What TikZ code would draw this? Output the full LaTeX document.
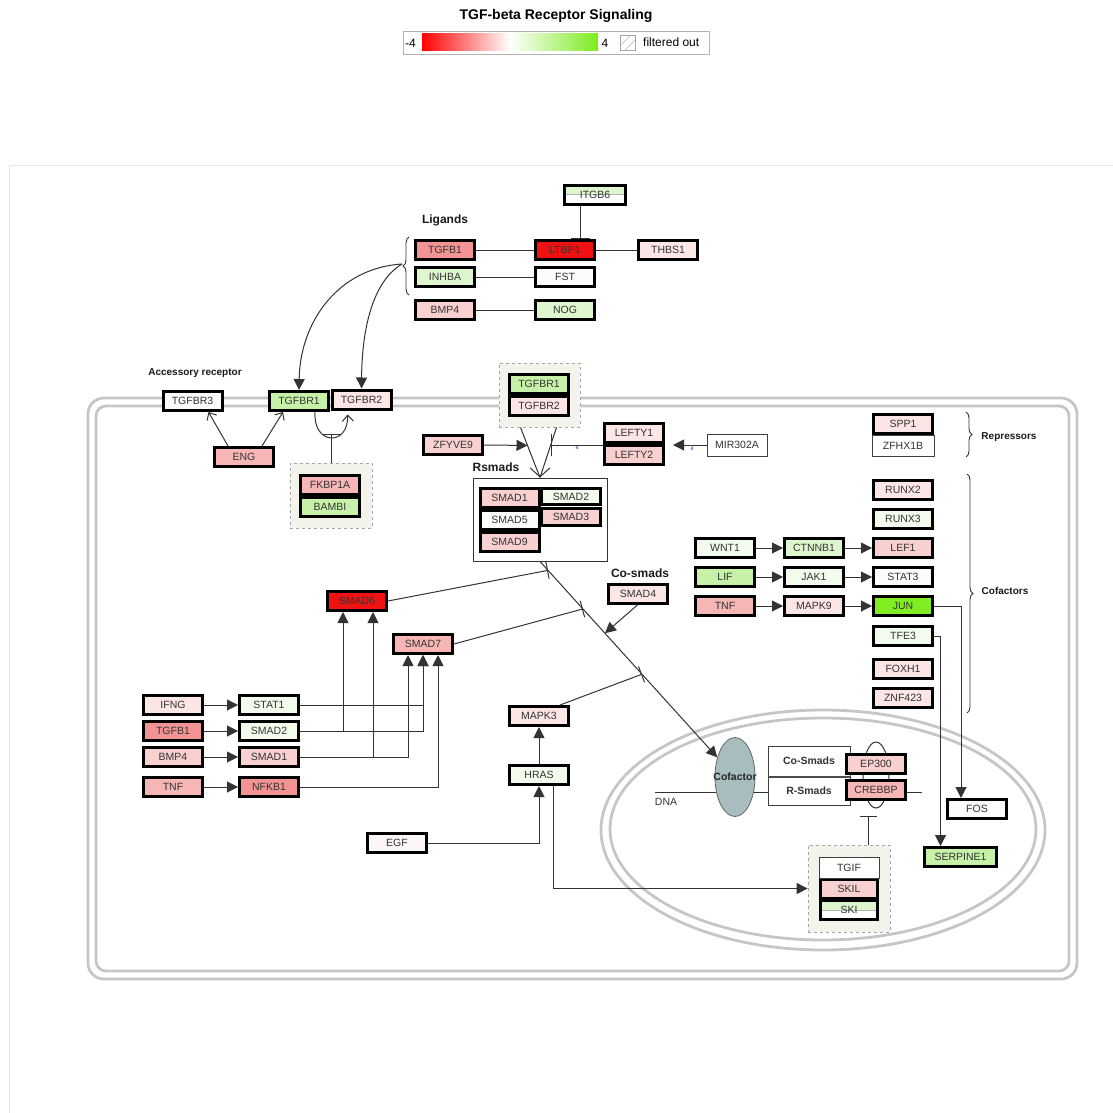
\documentclass[tikz,border=0pt]{standalone}
\usepackage{fontspec}
\setmainfont{Liberation Sans}
\usetikzlibrary{arrows.meta,shapes.geometric,calc,decorations.pathreplacing}
% expression colours, red = down (-4) ... green = up (+4)
\definecolor{upA}{HTML}{F01212}
\definecolor{upB}{HTML}{F29494}
\definecolor{upC}{HTML}{F7B6B6}
\definecolor{upD}{HTML}{F9D0D0}
\definecolor{upE}{HTML}{FCE5E5}
\definecolor{upF}{HTML}{FDF6F6}
\definecolor{dnA}{HTML}{80EE22}
\definecolor{dnB}{HTML}{C7F1A8}
\definecolor{dnC}{HTML}{DDF6CE}
\definecolor{dnD}{HTML}{F2FBEC}
\definecolor{nochg}{HTML}{FCFCFC}
\definecolor{grpfill}{HTML}{F3F3EC}
\definecolor{coffill}{HTML}{A7BDBE}
\definecolor{hiGreen}{HTML}{7CEB1E}
\newcommand{\genefont}{\fontsize{10.5}{12}\selectfont}
\newcommand{\legfont}{\fontsize{12}{14}\selectfont}
\tikzstyle{gene}=[rectangle,draw=black,line width=3pt,minimum width=59pt,minimum height=19pt,inner sep=0pt,font=\genefont,text=black!80]
\tikzstyle{thingene}=[rectangle,draw=black!75,line width=1pt,fill=white,minimum width=60pt,minimum height=21pt,inner sep=0pt,font=\genefont,text=black!80]
\tikzstyle{group}=[rectangle,draw=gray!70,dashed,line width=0.8pt,fill=grpfill,inner sep=0pt]
\tikzstyle{edge}=[draw=black!80,line width=1pt]
\tikzstyle{fwd}=[edge,-{Triangle[length=11pt,width=11pt]}]
\tikzstyle{inhib}=[edge,-{Bar[width=17pt]}]
\tikzstyle{bind}=[edge,-{Straight Barb[length=6pt,width=11pt]}]
\tikzstyle{barb}=[edge,-{Straight Barb[length=9pt,width=20pt]}]
\tikzstyle{heading}=[font=\bfseries\fontsize{12}{14}\selectfont,text=black!90]
\tikzstyle{subheading}=[font=\bfseries\fontsize{10}{12}\selectfont,text=black!90]
\tikzstyle{memb}=[draw=gray!45,line width=2.8pt]
\tikzstyle{brc}=[draw=black!80,line width=0.9pt,decorate,decoration={brace,amplitude=6pt}]
\tikzstyle{qlabel}=[font=\fontsize{5}{5}\selectfont,text=blue!70!black,inner sep=0pt]
\tikzstyle{halfgreen}=[path picture={\fill[dnC] (path picture bounding box.north west) rectangle (path picture bounding box.east);
    \draw[gray!60,line width=0.6pt] (path picture bounding box.west) -- (path picture bounding box.east);}]

\begin{document}
\begin{tikzpicture}[x=1pt,y=-1pt]
    \useasboundingbox (0,0) rectangle (1113,1113);
    % Legend
    \node[font=\bfseries\fontsize{14}{16}\selectfont] (title) at (556,16) {TGF-beta Receptor Signaling};
    \node[draw=gray!60,line width=0.8pt,minimum width=306pt,minimum height=23pt,inner sep=0pt] (legend) at (556,42.5) {};
    \node[font=\legfont,anchor=west,inner sep=0pt] (lmin) at (405,43) {-4};
    \shade[left color=red,right color=hiGreen,middle color=white] (422,34) rectangle (598,51);
    \node[font=\legfont,inner sep=0pt] (lmax) at (605,43) {4};
    \node[draw=gray!70,line width=0.8pt,minimum size=15pt,inner sep=0pt] (lfilt) at (628,42.5) {};
    \draw[gray!55,line width=0.6pt] (621,45) -- (631,35) (625,50) -- (635,40);
    \node[font=\legfont,anchor=west,inner sep=0pt] (lflt) at (643,42) {filtered out};

    % Panel, cell membrane and nucleus
    \draw[gray!20,line width=1pt] (9,1113) -- (9,165) -- (1113,165);
    \draw[memb,rounded corners=16pt] (88,398) rectangle (1077,979);
    \draw[memb,rounded corners=10pt] (96,406) rectangle (1069,971);
    \draw[memb] (823,830) ellipse [x radius=222, y radius=120];
    \draw[memb] (823,829) ellipse [x radius=213, y radius=111];
    \draw[edge] (655,792) -- (922,792);
    \draw[edge] (876,775) ellipse [x radius=13, y radius=33];
    \node[font=\genefont,text=black!80,inner sep=0pt] (dna) at (666,802) {DNA};

    % Groups
    \node[group,minimum width=82pt,minimum height=65pt] (grpA) at (331,495.5) {};
    \node[group,minimum width=81pt,minimum height=64pt] (grpB) at (539.5,395) {};
    \node[group,minimum width=82pt,minimum height=87pt] (grpC) at (849,888.5) {};
    \node[rectangle,draw=black!80,line width=1pt,fill=white,minimum width=134pt,minimum height=83pt] (rsg) at (540,519.5) {};

    % First we draw the gene boxes
    \foreach \pos/\name/\label/\col in {{(445,250)/tgfbA/TGFB1/upB}, {(565,250)/ltbp1/LTBP1/upA},
    {(668,250)/thbs1/THBS1/upE}, {(445,277)/inhba/INHBA/dnC}, {(565,277)/fst/FST/nochg},
    {(445,310)/bmp4A/BMP4/upD}, {(565,310)/nog/NOG/dnC},
    {(192.5,401)/tgfbr3/TGFBR3/nochg}, {(299,401)/tgfbr1A/TGFBR1/dnB}, {(361.5,399.5)/tgfbr2A/TGFBR2/upE},
    {(244,457)/eng/ENG/upC}, {(330,484.5)/fkbp/FKBP1A/upC}, {(330,506.5)/bambi/BAMBI/dnB},
    {(539,384)/tgfbr1B/TGFBR1/dnB}, {(539,406)/tgfbr2B/TGFBR2/upE},
    {(453,445)/zfyve9/ZFYVE9/upD}, {(634,433)/lefty1/LEFTY1/upE}, {(634,455)/lefty2/LEFTY2/upD},
    {(509.5,497.5)/smad1A/SMAD1/upD}, {(509.5,519.5)/smad5A/SMAD5/nochg}, {(509.5,541.5)/smad9A/SMAD9/upD},
    {(638,593.5)/smad4/SMAD4/upE}, {(357,601)/smad6/SMAD6/upA}, {(423,644)/smad7/SMAD7/upC},
    {(173,705)/ifng/IFNG/upE}, {(269,705)/stat1/STAT1/dnD},
    {(173,731)/tgfbB/TGFB1/upB}, {(269,731)/smad2B/SMAD2/dnD},
    {(173,757)/bmp4B/BMP4/upD}, {(269,757)/smad1B/SMAD1/upD},
    {(173,787)/tnfA/TNF/upC}, {(269,787)/nfkb1/NFKB1/upB},
    {(539,716)/mapk3/MAPK3/upE}, {(539,775)/hras/HRAS/dnD}, {(397,843)/egf/EGF/upF},
    {(903,424)/spp1/SPP1/upE}, {(903,490)/runx2/RUNX2/upE}, {(903,519)/runx3/RUNX3/dnD},
    {(903,548)/lef1/LEF1/upD}, {(903,577)/stat3/STAT3/nochg}, {(903,606)/jun/JUN/dnA},
    {(903,636)/tfe3/TFE3/dnD}, {(903,669)/foxh1/FOXH1/upE}, {(903,698)/znf423/ZNF423/upE},
    {(725,548)/wnt1/WNT1/dnD}, {(814,548)/ctnnb1/CTNNB1/dnC},
    {(725,577)/lif/LIF/dnB}, {(814,577)/jak1/JAK1/dnD},
    {(725,606)/tnfB/TNF/upC}, {(814,606)/mapk9/MAPK9/upE},
    {(977,809)/fos/FOS/nochg}, {(876,763.5)/ep300/EP300/upD}, {(876,789.5)/crebbp/CREBBP/upC}}
        \node[gene,fill=\col] (\name) at \pos {\label};

    \node[gene,fill=dnD,minimum height=16pt] (smad2A) at (571,496.5) {SMAD2};
    \node[gene,fill=upD,minimum height=17pt] (smad3A) at (571,516.5) {SMAD3};
    \node[gene,fill=dnB,minimum width=72pt] (serp) at (960.5,857) {SERPINE1};
    \node[gene,fill=white,halfgreen,minimum width=61pt] (itgb6) at (595,194.5) {ITGB6};
    \node[gene,fill=white,halfgreen,minimum width=57pt] (ski) at (849,910) {SKI};
    \node[gene,fill=upD,minimum width=57pt] (skil) at (849,888.5) {SKIL};
    \node[thingene] (tgif) at (849,867.5) {TGIF};
    \node[thingene,minimum width=62pt] (zfhx1b) at (903,446) {ZFHX1B};
    \node[thingene,minimum height=22pt] (mir) at (737,445) {MIR302A};
    \node[thingene,minimum width=82pt,minimum height=30pt,font=\bfseries\genefont] (cosm) at (809,761) {Co-Smads};
    \node[thingene,minimum width=82pt,minimum height=28pt,font=\bfseries\genefont] (rsm) at (809,791) {R-Smads};
    \draw[black!70,line width=2pt] (cosm.south west) -- (cosm.south east);
    \node[ellipse,draw=black!60,line width=0.8pt,fill=coffill,minimum width=40pt,minimum height=79pt,inner sep=0pt,
        label={[font=\bfseries\genefont,text=black!85]center:Cofactor}] (cof) at (735,777) {};
    % redraw the boxes in front of the DNA line
    \node[gene,fill=upD] at (ep300) {EP300};
    \node[gene,fill=upC] at (crebbp) {CREBBP};

    % Headings and braces
    \node[heading] (hlig) at (445,220) {Ligands};
    \node[subheading] (hacc) at (195,373) {Accessory receptor};
    \node[heading] (hrs) at (496,467) {Rsmads};
    \node[heading] (hco) at (640,573) {Co-smads};
    \node[subheading] (hrep) at (1009,437) {Repressors};
    \node[subheading] (hcof) at (1005,591) {Cofactors};
    \draw[brc] (409,295) -- (409,237);
    \draw[brc] (966,412) -- (966,457);
    \draw[brc] (967,474) -- (967,713);
    \coordinate (lig) at (402,264);

    % Connect boxes with edges
    \foreach \source/\dest in {tgfbA/ltbp1, ltbp1/thbs1, inhba/fst, bmp4A/nog}
        \path[edge] (\source) -- (\dest);
    \foreach \source/\dest in {ifng/stat1, tgfbB/smad2B, bmp4B/smad1B, tnfA/nfkb1, wnt1/ctnnb1, ctnnb1/lef1,
        lif/jak1, jak1/stat3, tnfB/mapk9, mapk9/jun, hras/mapk3}
        \draw[fwd] (\source) -- (\dest);
    \draw[edge,-{Bar[width=19pt]}] ($(itgb6.south)+(-15,0)$) -- ($(ltbp1.north)+(15,0)$);
    \draw[fwd] (lig) .. controls (338,268) and (300,322) .. (tgfbr1A.north);
    \draw[fwd] (lig) .. controls (372,282) and (362,330) .. (tgfbr2A.north);
    \draw[bind] ($(eng.north)+(-16,0)$) -- ($(tgfbr3.south)+(16,0)$);
    \draw[bind] ($(eng.north)+(18,0)$) -- ($(tgfbr1A.south)+(-16,0)$);
    \draw[bind] ($(tgfbr1A.south)+(16,0)$) .. controls (313,446) and (349,446) .. ($(tgfbr2A.south)+(-14,4)$);
    \draw[inhib] (grpA.north) -- ++(0,-29);

    % receptor complex to Rsmads
    \coordinate (rA) at ($(grpB.south)+(-19,0)$);
    \coordinate (rB) at ($(grpB.south)+(17,0)$);
    \draw[edge] (rA) -- (rsg.north) (rB) -- (rsg.north);
    \draw[barb] ($(rsg.north)+(0,-2)$) -- (rsg.north);
    \coordinate (zt) at ($(rA)!0.36!(rsg.north)$);
    \coordinate (lt) at ($(rB)!0.36!(rsg.north)$);
    \draw[fwd] (zfyve9.east) -- (zt);
    \draw[edge,-{Bar[width=22pt]}] (lefty1.south west |- lt) -- (lt);
    \draw[fwd,shorten >=8pt] (mir.west) -- (lefty1.south east |- mir);
    \node[qlabel] (qa) at (577,448) {4};
    \node[qlabel] (qb) at (692,449) {4};

    % Rsmads to the cofactor
    \draw[fwd] (rsg.south) -- (cof);
    \coordinate (hA) at ($(rsg.south)!0.041!(cof.center)$);
    \coordinate (hB) at ($(rsg.south)!0.22!(cof.center)$);
    \coordinate (hC) at ($(rsg.south)!0.333!(cof.center)$);
    \coordinate (hD) at ($(rsg.south)!0.523!(cof.center)$);
    \draw[inhib] (smad6.east) -- (hA);
    \draw[inhib] (smad7.east) -- (hB);
    \draw[fwd] (smad4.south) -- (hC);
    \draw[inhib] ($(mapk3.north east)+(-10,0)$) -- (hD);

    % inhibitory smads
    \draw[fwd] (smad2B.east) -| ($(smad6.south)+(-14,0)$);
    \draw[fwd] (smad1B.east) -| ($(smad6.south)+(16,0)$);
    \draw[fwd] (smad1B.east) -| ($(smad7.south)+(-15,0)$);
    \draw[fwd] (stat1.east) -| (smad7.south);
    \draw[fwd] (smad2B.east) -| (smad7.south);
    \draw[fwd] (nfkb1.east) -| ($(smad7.south)+(15,0)$);

    % MAPK branch
    \draw[fwd] (egf.east) -| (hras.south);
    \draw[fwd] ($(hras.south)+(14,0)$) |- (grpC.west);
    \draw[inhib] ($(grpC.north)+(19,0)$) -- ++(0,-29);

    % target genes
    \draw[fwd] (jun.east) -| ($(fos.north)+(-16,0)$);
    \draw[fwd] (tfe3.east) -| ($(serp.north)+(-20,0)$);
\end{tikzpicture}
\end{document}
